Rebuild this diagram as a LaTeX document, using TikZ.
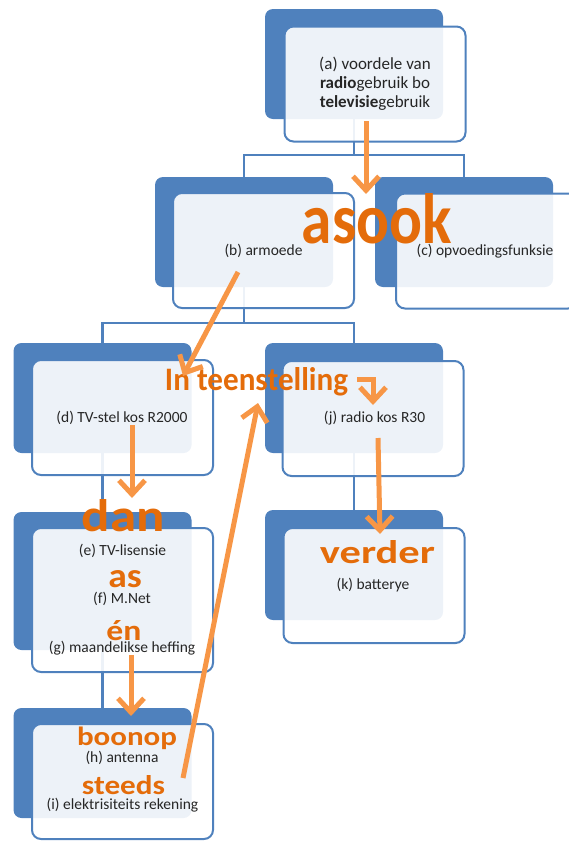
\documentclass[tikz,border=0pt]{standalone}
\usepackage{fontspec}
\usepackage{graphicx}
\setmainfont{Carlito}
\usetikzlibrary{arrows.meta}

\definecolor{smblue}{HTML}{4F81BD}
\definecolor{arrorange}{HTML}{F79646}
\definecolor{wordorange}{HTML}{E46C0A}
\definecolor{boxtext}{HTML}{262626}

\pgfdeclarelayer{links}
\pgfsetlayers{links,main}

\begin{document}
\begin{tikzpicture}[x=1pt,y=-1pt,
  back/.style={fill=smblue, rounded corners=8pt, minimum width=178pt,
    minimum height=110pt, inner sep=0pt},
  front/.style={draw=smblue, line width=2pt, fill=white, fill opacity=0.9,
    rounded corners=9pt, minimum width=181pt, minimum height=115pt, inner sep=0pt},
  link/.style={draw=smblue, line width=2.5pt},
  lbl/.style={text=boxtext, font=\fontsize{15.5}{19}\selectfont, anchor=base, inner sep=0pt},
  word/.style={text=wordorange, font=\bfseries, anchor=base, inner sep=0pt},
  flow/.style={draw=arrorange, line width=5pt, -{Straight Barb[length=14pt,width=26pt]}},
]
\useasboundingbox (0,0) rectangle (569,841);
\clip (0,0) rectangle (569,841);

% back (blue) cards
\node[back] (aB) at (354,64) {};
\node[back] (bB) at (244,232) {};
\node[back] (cB) at (464,232) {};
\node[back] (dB) at (102.5,398) {};
\node[back] (jB) at (354,398) {};
\node[back, minimum height=138pt] (eB) at (102.5,581) {};
\node[back] (kB) at (354,565) {};
\node[back] (hB) at (102.5,763) {};

% hierarchy connectors, kept behind every card
\coordinate (busA) at (354,155);
\coordinate (busB) at (244,323);
\begin{pgfonlayer}{links}
\draw[link] (aB.south) -- (busA) -| (bB.north);
\draw[link] (busA) -| (cB.north);
\draw[link] (bB.south) -- (busB) -| (dB.north);
\draw[link] (busB) -| (jB.north);
\draw[link] (dB.south) -- (eB.north);
\draw[link] (eB.south) -- (hB.north);
\draw[link] (jB.south) -- (kB.north);
\end{pgfonlayer}

% front (translucent white) cards
\node[front] (aF) at (375,84) {};
\node[front] (bF) at (263.5,250.5) {};
\node[front] (cF) at (486.5,251) {};
\node[front] (dF) at (122.5,417.5) {};
\node[front] (jF) at (373,418.5) {};
\node[front, minimum height=144pt] (eF) at (122.5,600) {};
\node[front] (kF) at (374,585.5) {};
\node[front] (hF) at (122.5,781.5) {};

% card texts
\node[lbl, anchor=center, align=center, font=\fontsize{17}{19}\selectfont] (aT) at (375,84)
  {(a) voordele van\\\textbf{radio}gebruik bo\\\textbf{televisie}gebruik};
\node[lbl] (bT) at (263.5,255) {(b) armoede};
\node[lbl] (cT) at (485,255) {(c) opvoedingsfunksie};
\node[lbl] (dT) at (122,422) {(d) TV-stel kos R2000};
\node[lbl] (jT) at (374.5,422) {(j) radio kos R30};
\node[lbl] (eT) at (122.5,555) {(e) TV-lisensie};
\node[lbl] (fT) at (122,603) {(f) M.Net};
\node[lbl] (gT) at (122,652) {(g) maandelikse heffing};
\node[lbl] (hT) at (122,762) {(h) antenna};
\node[lbl] (iT) at (122.5,809) {(i) elektrisiteits rekening};
\node[lbl] (kT) at (373,589) {(k) batterye};

% orange connective words
\node[word] (wAsook) at (377,243) {\resizebox{150pt}{50pt}{asook}};
\node[word] (wTeen) at (256.5,390) {\resizebox{183pt}{23pt}{In teenstelling}};
\node[word] (wDan) at (123.5,531) {\resizebox{83pt}{32pt}{dan}};
\node[word] (wAs) at (125,587) {\resizebox{33.5pt}{17pt}{as}};
\node[word] (wEn) at (124,640) {\resizebox{35pt}{20pt}{én}};
\node[word] (wBoonop) at (127,745) {\resizebox{100pt}{18.5pt}{boonop}};
\node[word] (wSteeds) at (123.5,794) {\resizebox{83pt}{19pt}{steeds}};
\node[word] (wVerder) at (377.5,563) {\resizebox{115pt}{23pt}{verder}};

% orange arrows
\coordinate (f1s) at (366,121);  \coordinate (f1e) at (366,194);
\coordinate (f2s) at (238,272);  \coordinate (f2e) at (183,376);
\coordinate (f3s) at (357,379);  \coordinate (f3e) at (373,405);
\coordinate (f4s) at (132,425);  \coordinate (f4e) at (132,498);
\coordinate (f5s) at (131,655);  \coordinate (f5e) at (131,716);
\coordinate (f6s) at (183,778);  \coordinate (f6e) at (258,403);
\coordinate (f7s) at (378,438);  \coordinate (f7e) at (380,534);
\draw[flow] (f1s) -- (f1e);
\draw[flow] (f2s) -- (f2e);
\draw[flow] (f3s) -| (f3e);
\draw[flow] (f4s) -- (f4e);
\draw[flow] (f5s) -- (f5e);
\draw[flow] (f6s) -- (f6e);
\draw[flow] (f7s) -- (f7e);
\end{tikzpicture}
\end{document}
